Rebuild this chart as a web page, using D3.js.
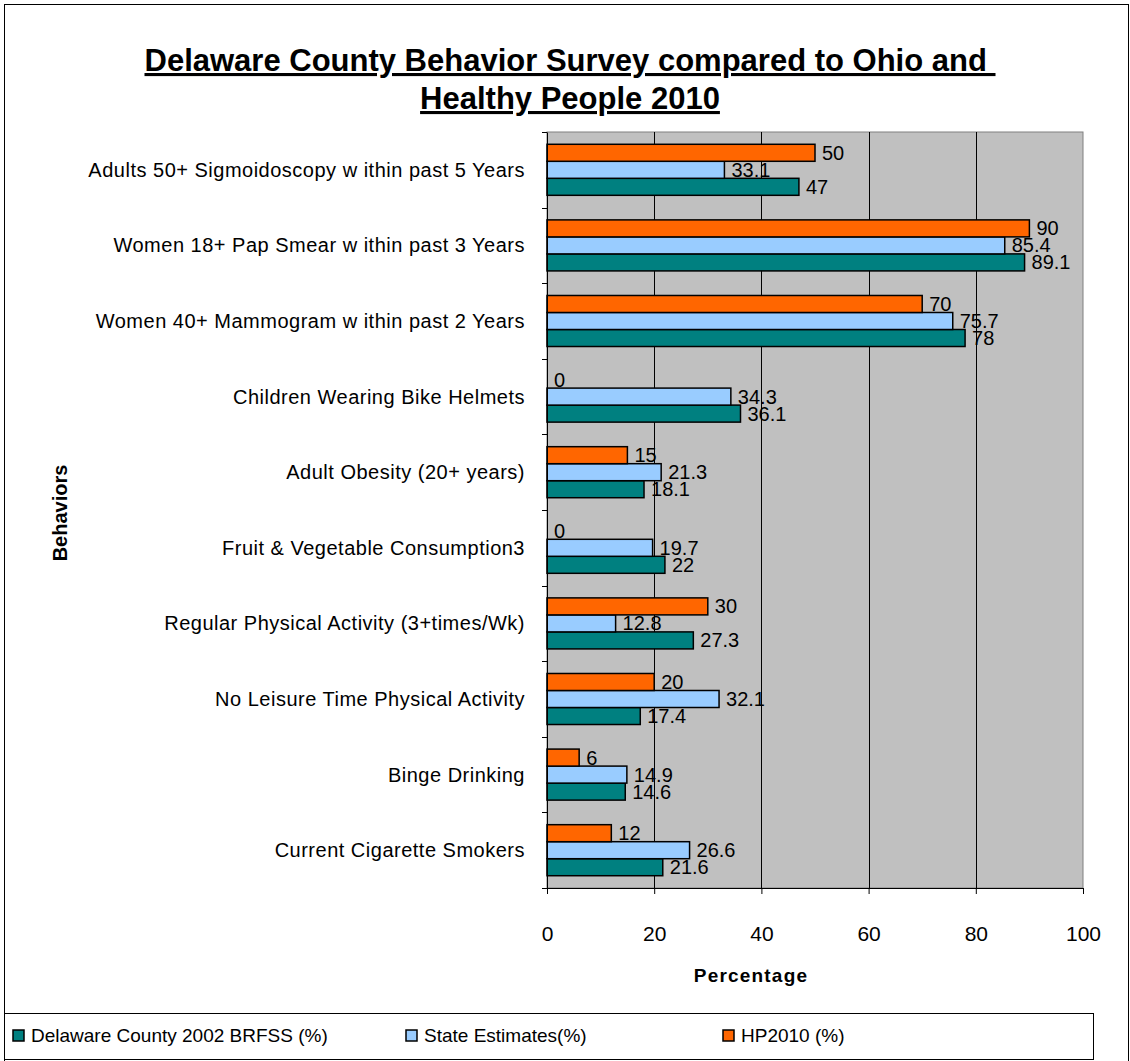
<!DOCTYPE html>
<html>
<head>
<meta charset="utf-8">
<script src="https://cdn.jsdelivr.net/npm/d3@7"></script>
<style>
  body { margin: 0; background: #fff; }
  text { font-family: "Liberation Sans", Arial, sans-serif; }
</style>
</head>
<body>
<div id="chart"></div>
<script>
// categories, top to bottom as drawn
const behaviors = [
  "Adults 50+ Sigmoidoscopy w ithin past 5 Years",
  "Women 18+ Pap Smear w ithin past 3 Years",
  "Women 40+ Mammogram w ithin past 2 Years",
  "Children Wearing Bike Helmets",
  "Adult Obesity (20+ years)",
  "Fruit & Vegetable Consumption3",
  "Regular Physical Activity (3+times/Wk)",
  "No Leisure Time Physical Activity",
  "Binge Drinking",
  "Current Cigarette Smokers"
];
const delawareValues = [47, 89.1, 78, 36.1, 18.1, 22, 27.3, 17.4, 14.6, 21.6];
const stateValues = [33.1, 85.4, 75.7, 34.3, 21.3, 19.7, 12.8, 32.1, 14.9, 26.6];
const hp2010Values = [50, 90, 70, 0, 15, 0, 30, 20, 6, 12];
const seriesNames = ["Delaware County 2002 BRFSS (%)", "State Estimates(%)", "HP2010 (%)"];
const xTicks = [0, 20, 40, 60, 80, 100];

const colors = {
  "Delaware County 2002 BRFSS (%)": "#008080",
  "State Estimates(%)": "#99ccff",
  "HP2010 (%)": "#ff6600"
};

const W = 1130, H = 1061;
const margin = { top: 132, left: 547, right: 47, bottom: 173 };
const width = W - margin.left - margin.right;
const height = H - margin.top - margin.bottom;

const svg = d3.select('#chart').append('svg')
  .attr('width', W)
  .attr('height', H);

// outer frame
svg.append('rect')
  .attr('x', 4.5).attr('y', 4.5)
  .attr('width', 1124).attr('height', 1100)
  .attr('fill', 'none').attr('stroke', '#000').attr('stroke-width', 1);

// title
const title = svg.append('text')
  .attr('x', 570)
  .attr('text-anchor', 'middle')
  .style('font-weight', 'bold')
  .style('font-size', '31px')
  .style('text-decoration', 'underline');
title.append('tspan').attr('x', 570).attr('y', 71).text('Delaware County Behavior Survey compared to Ohio and ');
title.append('tspan').attr('x', 570).attr('y', 109).text('Healthy People 2010');

const g = svg.append('g').attr('transform', `translate(${margin.left},${margin.top})`);

const x = d3.scaleLinear().domain([0, 100]).range([0, width]);
const y0 = d3.scaleBand().domain(behaviors).range([0, height])
  .paddingInner(0.325).paddingOuter(0.1625);
// HP2010 on top, then state, then county (Excel reverse order)
const y1 = d3.scaleBand().domain(seriesNames.slice().reverse()).range([0, y0.bandwidth()]);

const rows = behaviors.map((b, i) => ({
  behavior: b,
  values: [
    { series: seriesNames[0], value: delawareValues[i] },
    { series: seriesNames[1], value: stateValues[i] },
    { series: seriesNames[2], value: hp2010Values[i] }
  ]
}));

// plot background
g.append('rect')
  .attr('width', width).attr('height', height)
  .attr('fill', '#c0c0c0')
  .attr('stroke', '#808080').attr('stroke-width', 1);

// gridlines
g.selectAll('.grid')
  .data(xTicks.slice(1, -1))
  .enter().append('line')
  .attr('x1', d => Math.round(x(d)) + 0.5).attr('x2', d => Math.round(x(d)) + 0.5)
  .attr('y1', 0).attr('y2', height)
  .attr('stroke', '#000').attr('stroke-width', 1);

// bars
const groups = g.selectAll('.row')
  .data(rows)
  .enter().append('g')
  .attr('transform', d => `translate(0,${y0(d.behavior)})`);

groups.selectAll('rect')
  .data(d => d.values.filter(v => v.value > 0))
  .enter().append('rect')
  .attr('x', 0)
  .attr('y', d => y1(d.series))
  .attr('width', d => x(d.value))
  .attr('height', y1.bandwidth())
  .attr('fill', d => colors[d.series])
  .attr('stroke', '#000').attr('stroke-width', 1.5);

groups.selectAll('.val')
  .data(d => d.values)
  .enter().append('text')
  .attr('x', d => x(d.value) + 7)
  .attr('y', d => y1(d.series) + y1.bandwidth() / 2 + 7)
  .style('font-size', '20px')
  .attr('fill', '#000')
  .text(d => d.value);

// y axis
const yAxis = g.append('g').call(d3.axisLeft(y0).tickSize(0).tickFormat(''));
yAxis.select('.domain').attr('stroke', '#000');
g.selectAll('.ytick')
  .data(d3.range(behaviors.length + 1))
  .enter().append('line')
  .attr('x1', -5).attr('x2', 0)
  .attr('y1', i => Math.round(i * y0.step()) + 0.5)
  .attr('y2', i => Math.round(i * y0.step()) + 0.5)
  .attr('stroke', '#000');

g.selectAll('.cat')
  .data(behaviors)
  .enter().append('text')
  .attr('x', -22)
  .attr('y', d => y0(d) + y0.bandwidth() / 2 + 7)
  .attr('text-anchor', 'end')
  .style('font-size', '20px')
  .style('letter-spacing', '0.5px')
  .text(d => d);

// x axis
const xAxis = g.append('g')
  .attr('transform', `translate(0,${height})`)
  .call(d3.axisBottom(x).tickValues(xTicks).tickSize(6).tickPadding(32));
xAxis.select('.domain').attr('stroke', '#000');
xAxis.selectAll('line').attr('stroke', '#000');
xAxis.selectAll('text')
  .style('font-size', '21px')
  .style('font-family', '"Liberation Sans", Arial, sans-serif')
  .attr('fill', '#000');

svg.append('text')
  .attr('x', 751)
  .attr('y', 982)
  .attr('text-anchor', 'middle')
  .style('font-weight', 'bold')
  .style('font-size', '19px')
  .style('letter-spacing', '1.2px')
  .text('Percentage');

svg.append('text')
  .attr('transform', 'translate(67,513) rotate(-90)')
  .attr('text-anchor', 'middle')
  .style('font-weight', 'bold')
  .style('font-size', '20px')
  .text('Behaviors');

// legend
svg.append('rect')
  .attr('x', 4.5).attr('y', 1013.5)
  .attr('width', 1089).attr('height', 46)
  .attr('fill', '#fff').attr('stroke', '#000').attr('stroke-width', 1);

const legendX = [13, 406, 723];
const legend = svg.selectAll('.leg')
  .data(seriesNames)
  .enter().append('g')
  .attr('transform', (d, i) => `translate(${legendX[i]},1030)`);
legend.append('rect')
  .attr('width', 11).attr('height', 11)
  .attr('fill', d => colors[d])
  .attr('stroke', '#000').attr('stroke-width', 1.5);
legend.append('text')
  .attr('x', 18).attr('y', 12)
  .style('font-size', '19px')
  .text(d => d);
</script>
</body>
</html>
